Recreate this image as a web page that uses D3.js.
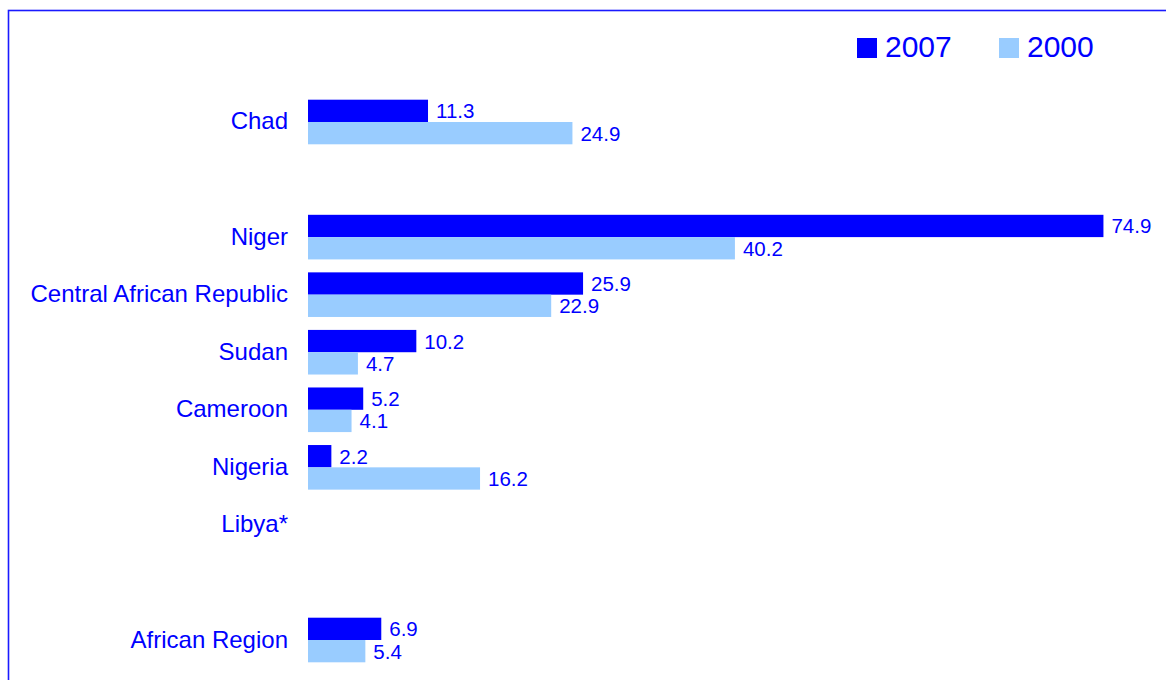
<!DOCTYPE html>
<html>
<head>
<meta charset="utf-8">
<script src="https://cdn.jsdelivr.net/npm/d3@7"></script>
<style>
  html, body { margin: 0; padding: 0; background: #fff; }
  svg { display: block; font-family: "Liberation Sans", Arial, sans-serif; }
</style>
</head>
<body>
<svg id="chart" width="1166" height="680"></svg>
<script>
const categories = ["Chad", "", "Niger", "Central African Republic", "Sudan", "Cameroon", "Nigeria", "Libya*", "", "African Region"];
const values2007 = [11.3, null, 74.9, 25.9, 10.2, 5.2, 2.2, null, null, 6.9];
const values2000 = [24.9, null, 40.2, 22.9, 4.7, 4.1, 16.2, null, null, 5.4];
const seriesNames = ["2007", "2000"];
const seriesColors = ["#0000ff", "#99ccff"];

const svg = d3.select("#chart");
const W = 1166, H = 680;

// frame
svg.append("rect")
  .attr("x", 8.5).attr("y", 10.5)
  .attr("width", W + 20).attr("height", H + 20)
  .attr("fill", "none").attr("stroke", "#1a1aff").attr("stroke-width", 1.6);

const idx = categories.map((d, i) => i);
const y = d3.scaleBand().domain(idx).range([93.22, 668.78]).paddingInner(0.225).paddingOuter(0.1125);
const ySub = d3.scaleBand().domain(seriesNames).range([0, y.bandwidth()]);
const x = d3.scaleLinear().domain([0, 80]).range([308, 308 + 80 * 10.62]);

const series = [values2007, values2000];

// category labels
svg.append("g").selectAll("text")
  .data(idx.filter(i => categories[i] !== ""))
  .join("text")
  .attr("x", 288)
  .attr("y", i => y(i) + y.bandwidth() / 2 - 1)
  .attr("text-anchor", "end")
  .attr("dominant-baseline", "central")
  .attr("font-size", 24)
  .attr("fill", "#0000ff")
  .text(i => categories[i]);

series.forEach((vals, s) => {
  const g = svg.append("g");
  const data = idx.filter(i => vals[i] != null);
  g.selectAll("rect").data(data).join("rect")
    .attr("x", x(0))
    .attr("y", i => y(i) + ySub(seriesNames[s]))
    .attr("width", i => x(vals[i]) - x(0))
    .attr("height", ySub.bandwidth())
    .attr("fill", seriesColors[s]);
  g.selectAll("text").data(data).join("text")
    .attr("x", i => x(vals[i]) + 8)
    .attr("y", i => y(i) + ySub(seriesNames[s]) + ySub.bandwidth() / 2)
    .attr("dominant-baseline", "central")
    .attr("font-size", 20.5)
    .attr("fill", "#0000ff")
    .text(i => vals[i].toFixed(1));
});

// legend
const legendX = [857, 999];
seriesNames.forEach((n, s) => {
  svg.append("rect").attr("x", legendX[s]).attr("y", 38).attr("width", 20).attr("height", 20).attr("fill", seriesColors[s]);
  svg.append("text").attr("x", legendX[s] + 28).attr("y", 57)
    .attr("font-size", 30).attr("fill", "#0000ff").text(n);
});
</script>
</body>
</html>
